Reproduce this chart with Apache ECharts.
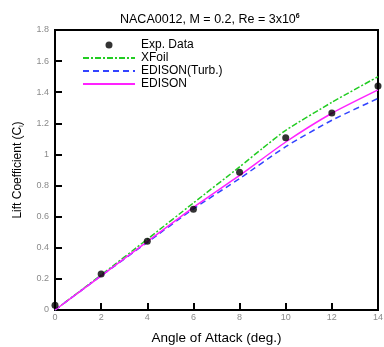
<!DOCTYPE html>
<html><head><meta charset="utf-8">
<script src="https://cdn.jsdelivr.net/npm/echarts@6/dist/echarts.min.js"></script>
<style>html,body{margin:0;padding:0;background:#fff}#c{width:384px;height:347px}</style>
</head><body><div id="c"></div>
<script>
const expAlpha = [0, 2, 4, 6, 8, 10, 12, 14];
const expCl = [0.03, 0.232, 0.442, 0.648, 0.885, 1.107, 1.267, 1.44];
const xfoilAlpha = [0, 2, 4, 6, 8, 9, 10, 12, 14];
const xfoilCl = [0, 0.225, 0.455, 0.688, 0.92, 1.04, 1.155, 1.335, 1.50];
const turbAlpha = [0, 2, 4, 6, 8, 10, 12, 14];
const turbCl = [0, 0.22, 0.435, 0.65, 0.845, 1.05, 1.22, 1.36];
const edAlpha = [0, 2, 4, 6, 8, 10, 12, 14];
const edCl = [0, 0.22, 0.44, 0.66, 0.865, 1.08, 1.265, 1.415];
const xTicks = [0, 2, 4, 6, 8, 10, 12, 14];
const yTicks = [0, 0.2, 0.4, 0.6, 0.8, 1, 1.2, 1.4, 1.6, 1.8];

const zip = (a, b) => a.map((v, i) => [v, b[i]]);
const FONT = '"Liberation Sans", Arial, sans-serif';
const noSym = {opacity: 0};
const chart = echarts.init(document.getElementById('c'), null, {renderer: 'canvas'});
chart.setOption({
  animation: false,
  textStyle: {fontFamily: FONT},
  title: {
    text: '{t|NACA0012, M = 0.2, Re = 3x10}{s|6}',
    left: 115, top: 8,
    textStyle: {rich: {
      t: {fontFamily: FONT, fontSize: 12.5, color: '#000', fontWeight: 'normal'},
      s: {fontFamily: FONT, fontSize: 7, color: '#000', verticalAlign: 'top', padding: [0, 0, 7, 0]}
    }}
  },
  grid: {left: 55, right: 6, top: 30, bottom: 37, show: true, borderColor: '#000', borderWidth: 2,
    containLabel: false, outerBoundsMode: 'none'},
  legend: {
    orient: 'vertical', left: 82, top: 38.5, itemWidth: 52, itemHeight: 7, itemGap: 0, padding: 0,
    textStyle: {fontFamily: FONT, fontSize: 12, color: '#000', lineHeight: 13, padding: [0, 0, 0, 1]},
    data: [
      {name: 'Exp. Data', icon: 'circle'},
      {name: 'XFoil', itemStyle: noSym},
      {name: 'EDISON(Turb.)', itemStyle: noSym},
      {name: 'EDISON', itemStyle: noSym}
    ]
  },
  xAxis: {
    type: 'value', min: 0, max: 14, interval: 2,
    name: 'Angle of Attack (deg.)', nameLocation: 'middle', nameGap: 21,
    nameTextStyle: {fontFamily: FONT, fontSize: 13.5, color: '#000'},
    axisLine: {show: true, lineStyle: {color: '#000', width: 2}},
    axisTick: {show: true, inside: true, length: 7, lineStyle: {color: '#000', width: 2}},
    axisLabel: {fontFamily: FONT, fontSize: 9, color: '#8a8a8a', margin: 3,
      formatter: v => xTicks.includes(v) ? String(v) : ''},
    splitLine: {show: false}
  },
  yAxis: {
    type: 'value', min: 0, max: 1.8, interval: 0.2,
    name: '{a|Lift Coefficient (C}{b|l}{a|)}', nameLocation: 'middle', nameGap: 31,
    nameTextStyle: {rich: {
      a: {fontFamily: FONT, fontSize: 12, color: '#000'},
      b: {fontFamily: FONT, fontSize: 6, color: '#000', verticalAlign: 'bottom', padding: [5, 0, 0, 0]}
    }},
    axisLine: {show: true, lineStyle: {color: '#000', width: 2}},
    axisTick: {show: true, inside: true, length: 7, lineStyle: {color: '#000', width: 2}},
    axisLabel: {fontFamily: FONT, fontSize: 9, color: '#8a8a8a', margin: 6,
      formatter: v => { const m = yTicks.find(t => Math.abs(t - v) < 1e-6); return m === undefined ? '' : String(m); }},
    splitLine: {show: false}
  },
  series: [
    {name: 'Exp. Data', type: 'scatter', data: zip(expAlpha, expCl), symbol: 'circle', symbolSize: 7,
      itemStyle: {color: '#000'}, clip: false, z: 5},
    {name: 'XFoil', type: 'line', data: zip(xfoilAlpha, xfoilCl), symbol: 'none', smooth: 0.2,
      lineStyle: {color: '#22cc22', width: 1.5, type: [6, 2, 2, 2]}, itemStyle: {color: '#22cc22'}},
    {name: 'EDISON(Turb.)', type: 'line', data: zip(turbAlpha, turbCl), symbol: 'none', smooth: 0.2,
      lineStyle: {color: '#3344ff', width: 1.5, type: [6, 4]}, itemStyle: {color: '#3344ff'}},
    {name: 'EDISON', type: 'line', data: zip(edAlpha, edCl), symbol: 'none', smooth: 0.2,
      lineStyle: {color: '#ff22ff', width: 1.5, type: 'solid'}, itemStyle: {color: '#ff22ff'}}
  ]
});
</script></body></html>
